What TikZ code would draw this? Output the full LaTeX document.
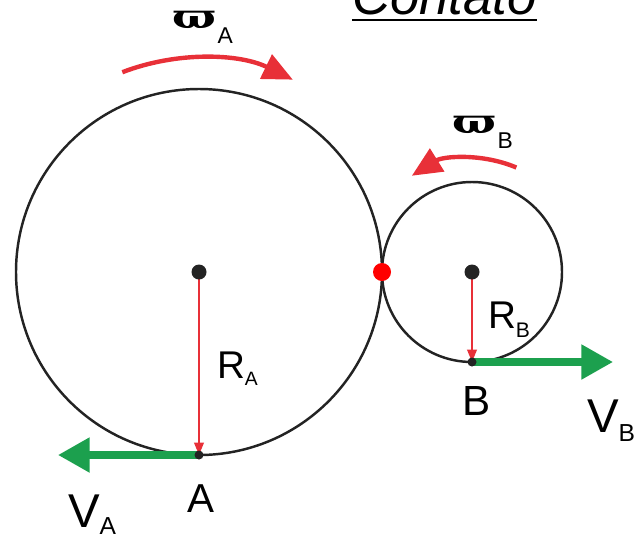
\documentclass[tikz,border=0pt]{standalone}
\usepackage{fontspec}
\setmainfont{Liberation Sans}
\newfontfamily\greekfont{DejaVu Serif}
\usetikzlibrary{arrows.meta,calc}

\definecolor{rotred}{RGB}{232,48,56}
\definecolor{velgreen}{RGB}{28,160,78}
\definecolor{wheelgray}{RGB}{35,35,35}

\newcommand{\pomega}{\scalebox{1.38}[1]{\greekfont\bfseries\fontsize{19}{19}\selectfont ϖ}}

\tikzset{
  wheel/.style={
    draw=wheelgray, line width=1.4pt
  },
  spin/.style={
    draw=rotred, line width=2.5pt,
    -{Triangle[length=17pt,width=15pt]}
  },
  radline/.style={
    draw=rotred, line width=0.85pt,
    -{Triangle[length=7pt,width=5.5pt]}
  },
  velocity/.style={
    draw=velgreen, line width=4pt,
    -{Triangle[length=18pt,width=19pt]}
  },
  letter/.style={
    anchor=base west, inner sep=0pt,
    font=\fontsize{23}{23}\selectfont
  },
}

\begin{document}
\begin{tikzpicture}[x=0.02cm, y=0.02cm, every node/.style={outer sep=0pt}]

\useasboundingbox (0,0) rectangle (641,539);

%% Title
\node[anchor=base, inner sep=0pt, font=\itshape\fontsize{30}{30}\selectfont]
  (title) at (444.5,525) {Contato};
\draw[line width=1.7pt] ($(title.base west)+(0,-6)$) -- ($(title.base east)+(0,-6)$);

%% Wheels
\coordinate (ca) at (199,267);
\coordinate (cb) at (472,267);
\coordinate (contact) at (382,267);
\coordinate (ptA) at (199,84);
\coordinate (ptB) at (472,177);
\coordinate (tipA) at (58,84);
\coordinate (tipB) at (613,177);

\draw[wheel] (ca) circle (183);
\draw[wheel] (cb) circle (90);

%% Rotation arrows
\draw[spin] (ca) ++(111:214) arc[start angle=111, end angle=64, radius=214];
\draw[spin] (cb) ++(67:113.5) arc[start angle=67, end angle=122, radius=113.5];

\node[letter] (omegaA) at (172,511)
  {\pomega\hspace{1pt}\raisebox{-9pt}{\fontsize{13}{13}\selectfont A}};
\node[letter] (omegaB) at (452,406)
  {\pomega\hspace{1pt}\raisebox{-9pt}{\fontsize{13}{13}\selectfont B}};

%% Radii
\draw[radline] (ca) -- (ptA);
\draw[radline] (cb) -- (ptB);

\node[letter, font=\fontsize{22}{22}\selectfont] (labRA) at (217,161)
  {R\raisebox{-4pt}{\fontsize{11}{11}\selectfont A}};
\node[letter, font=\fontsize{22}{22}\selectfont] (labRB) at (488,211)
  {R\raisebox{-5.5pt}{\fontsize{12}{12}\selectfont B}};

%% Velocities
\draw[velocity] (ptA) -- (tipA);
\draw[velocity] (ptB) -- (tipB);

\node[letter, font=\fontsize{27}{27}\selectfont] (labVA) at (68,12)
  {V\raisebox{-4.5pt}{\fontsize{14}{14}\selectfont A}};
\node[letter, font=\fontsize{27}{27}\selectfont] (labVB) at (587,107)
  {V\raisebox{-5.5pt}{\fontsize{14}{14}\selectfont B}};

%% Points
\fill[wheelgray] (ca) circle (7.5);
\fill[wheelgray] (cb) circle (7.5);
\fill[wheelgray] (ptA) circle (4.5);
\fill[wheelgray] (ptB) circle (4.5);
\fill[red] (contact) circle (9);

\node[letter] (labA) at (187,27) {A};
\node[letter, font=\fontsize{24}{24}\selectfont] (labB) at (462,124) {B};

\end{tikzpicture}
\end{document}
